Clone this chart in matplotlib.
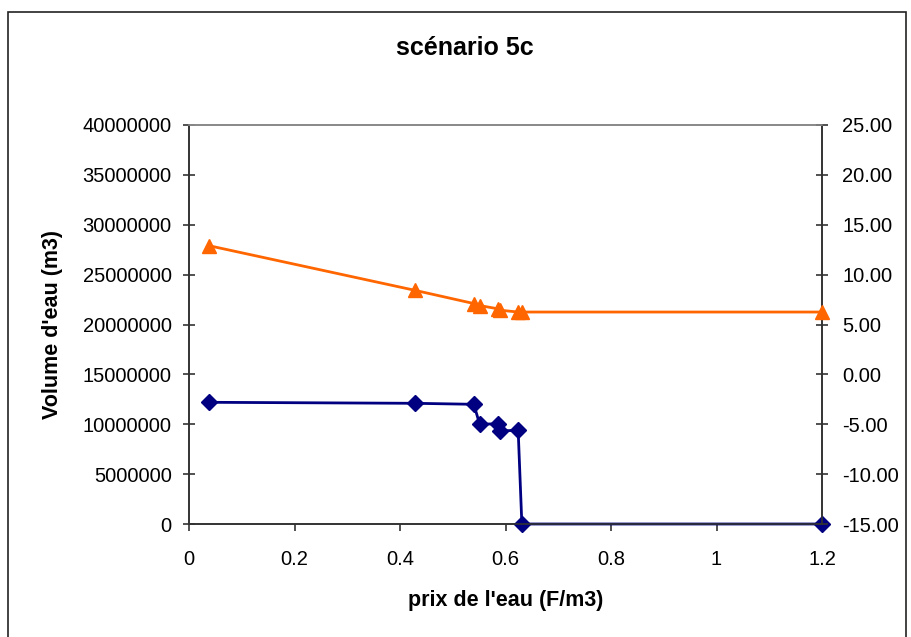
import numpy as np
import matplotlib
matplotlib.use('Agg')
import matplotlib.pyplot as plt
from matplotlib.patches import Rectangle

plt.rcParams['font.family'] = ['Liberation Sans', 'DejaVu Sans']

# price of water (F/m3)
prix = [0.038, 0.428, 0.540, 0.551, 0.586, 0.590, 0.624, 0.631, 1.2]
# water volume (m3), left axis
volume = [12200000, 12100000, 12000000, 10000000, 10050000, 9330000, 9400000, 0, 0]
# second series, right axis
serie2 = [12.9, 8.43, 7.1, 6.9, 6.57, 6.43, 6.25, 6.25, 6.25]

yticks_left = np.arange(0, 40000001, 5000000)
yticks_right = np.arange(-15, 25.1, 5)
xticks = [0, 0.2, 0.4, 0.6, 0.8, 1, 1.2]
xticklabels = ['0', '0.2', '0.4', '0.6', '0.8', '1', '1.2']

fig = plt.figure(figsize=(9.11, 6.37), dpi=100)
ax = fig.add_axes([189/911, 1-524/637, (822-189)/911, (524-125)/637])
ax2 = ax.twinx()

ax.plot(prix, volume, '-D', color='#000080', lw=2, ms=8, clip_on=False, zorder=3)
ax2.plot(prix, serie2, '-^', color='#FF6600', lw=2, ms=10, clip_on=False, zorder=3)

ax.set_xlim(0, 1.2)
ax.set_ylim(0, 40000000)
ax2.set_ylim(-15, 25)
ax.set_xticks(xticks)
ax.set_xticklabels(xticklabels)
ax.set_yticks(yticks_left)
ax.set_yticklabels(['%d' % v for v in yticks_left])
ax2.set_yticks(yticks_right)
ax2.set_yticklabels(['%.2f' % v for v in yticks_right])

for a in (ax, ax2):
    for s in a.spines.values():
        s.set_color('#333333')
        s.set_linewidth(1.2)
    a.spines['top'].set_color('#888888')
ax.tick_params(axis='y', direction='inout', length=9, width=1.2, color='#333333', labelsize=14.5, pad=8)
ax.tick_params(axis='x', direction='out', length=5, width=1.2, color='#333333', labelsize=14.5, pad=14)
ax2.tick_params(axis='y', direction='inout', length=9, width=1.2, color='#333333', labelsize=14.5, pad=10)

ax.set_xlabel("prix de l'eau (F/m3)", fontsize=15.5, fontweight='bold', labelpad=15)
ax.set_ylabel("Volume d'eau (m3)", fontsize=15.5, fontweight='bold', labelpad=14)
fig.text(465/911, 1-48/637, 'scénario 5c', fontsize=18, fontweight='bold', ha='center', va='center')

# outer chart border
fig.patches.append(Rectangle((8/911, -0.05), (906-8)/911, 1.05-12/637, transform=fig.transFigure,
                             fill=False, edgecolor='#222222', lw=1.2))

fig.savefig('out.png', dpi=100)
